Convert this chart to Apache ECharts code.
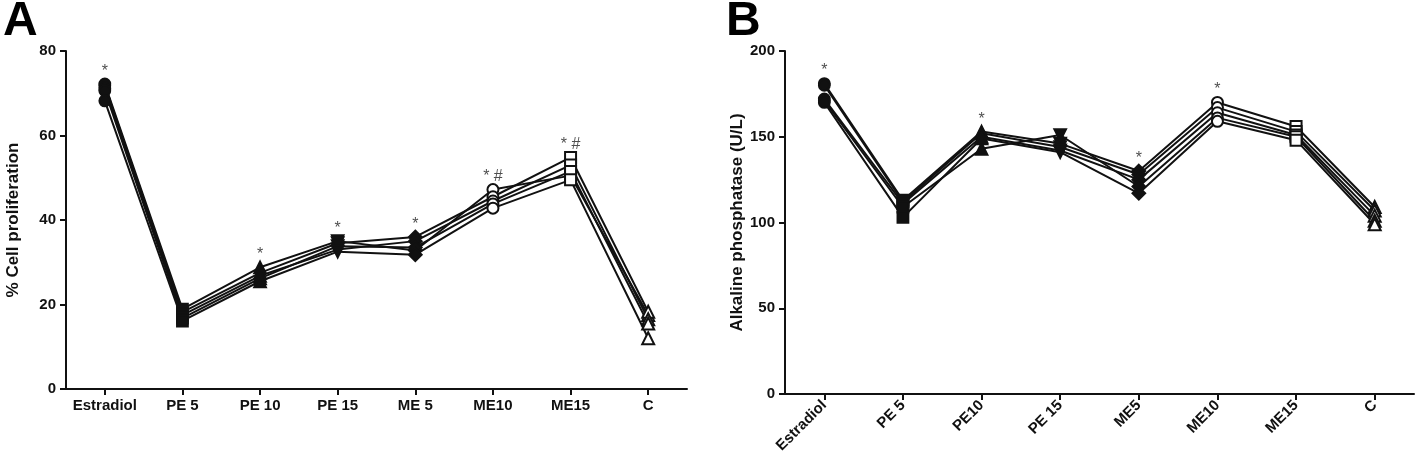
<!DOCTYPE html>
<html>
<head>
<meta charset="utf-8">
<script src="https://cdn.jsdelivr.net/npm/echarts@6/dist/echarts.min.js"></script>
<style>
html,body{margin:0;padding:0;background:#fff;}
#chart{width:1418px;height:464px;}
</style>
</head>
<body>
<div id="chart"></div>
<script>
// ---- data ----
const categoriesA = ['Estradiol', 'PE 5', 'PE 10', 'PE 15', 'ME 5', 'ME10', 'ME15', 'C'];
const categoriesB = ['Estradiol', 'PE 5', 'PE10', 'PE 15', 'ME5', 'ME10', 'ME15', 'C'];

// panel A: % cell proliferation, one array per replicate
const cellRep1 = [72.2, 18.9, 28.8, 35.0, 32.8, 47.2, 50.5, 17.5];
const cellRep2 = [71.8, 18.2, 27.5, 34.5, 36.0, 45.5, 54.8, 18.3];
const cellRep3 = [71.0, 17.5, 26.8, 33.0, 35.0, 44.5, 53.0, 16.5];
const cellRep4 = [70.6, 16.8, 26.2, 33.8, 33.5, 43.8, 51.5, 15.5];
const cellRep5 = [68.2, 16.1, 25.5, 32.5, 31.8, 42.8, 49.5, 12.0];

// panel B: alkaline phosphatase (U/L), one array per replicate
const alpRep1 = [181, 113, 153, 146, 130, 170, 156, 109];
const alpRep2 = [180, 112, 152, 144, 128, 167, 153, 107];
const alpRep3 = [172, 111, 150, 142, 125, 164, 151, 104];
const alpRep4 = [171, 109, 143, 151, 121, 161, 150, 101];
const alpRep5 = [170, 103, 149, 141, 117, 159, 148, 99];

// significance marks
const annotA = ['*', '', '*', '*', '*', '* #', '* #', ''];
const annotB = ['*', '', '*', '', '*', '*', '', ''];

// axis ticks
const yTicksA = [0, 20, 40, 60, 80];
const yTicksB = [0, 50, 100, 150, 200];

// ---- style ----
const TRI_DOWN = 'path://M0,0L10,0L5,9Z';
const markerStyle = [
  {symbol: 'circle', size: 11},
  {symbol: 'rect', size: 11},
  {symbol: 'triangle', size: 12},
  {symbol: TRI_DOWN, size: 12},
  {symbol: 'diamond', size: 13},
  {symbol: 'emptyCircle', size: 11},
  {symbol: 'emptyRect', size: 11},
  {symbol: 'emptyTriangle', size: 12}
];
const FONT = 'Liberation Sans, Arial, sans-serif';

function repSeries(values, axisIdx) {
  return {
    type: 'line',
    xAxisIndex: axisIdx, yAxisIndex: axisIdx,
    data: values.map((v, i) => ({
      value: v,
      symbol: markerStyle[i].symbol,
      symbolSize: markerStyle[i].size
    })),
    lineStyle: {color: '#111', width: 2},
    itemStyle: {color: '#111', borderColor: '#111', borderWidth: 1.8},
    showAllSymbol: true,
    animation: false,
    z: 3
  };
}
function annotSeries(reps, labels, axisIdx) {
  const maxes = labels.map((_, i) => Math.max(...reps.map(r => r[i])));
  return {
    type: 'scatter',
    xAxisIndex: axisIdx, yAxisIndex: axisIdx,
    data: maxes.map((m, i) => ({value: [i, m], label: {formatter: labels[i]}})),
    symbol: 'circle', symbolSize: 1,
    itemStyle: {color: 'rgba(0,0,0,0)'},
    label: {show: true, position: 'top', distance: 4, color: '#222', fontSize: 16, fontFamily: FONT},
    silent: true,
    animation: false,
    z: 5
  };
}
function yAxis(ticks, name, gridIndex, nameGap) {
  return {
    type: 'value', gridIndex: gridIndex,
    min: ticks[0], max: ticks[ticks.length - 1], interval: ticks[1] - ticks[0],
    name: name, nameLocation: 'middle', nameGap: nameGap,
    nameTextStyle: {fontSize: 17, fontWeight: 'bold', color: '#111', fontFamily: FONT},
    axisLine: {show: true, lineStyle: {color: '#111', width: 2}},
    axisTick: {show: true, length: 6, lineStyle: {color: '#111', width: 2}},
    axisLabel: {fontSize: 15, fontWeight: 'bold', color: '#111', fontFamily: FONT, margin: 10},
    splitLine: {show: false}
  };
}

const chart = echarts.init(document.getElementById('chart'), null, {renderer: 'canvas'});
chart.setOption({
  backgroundColor: '#fff',
  animation: false,
  title: [
    {text: 'A', left: -2, top: -7, textStyle: {fontSize: 48, fontWeight: 'bold', color: '#000', fontFamily: FONT}},
    {text: 'B', left: 721, top: -7, textStyle: {fontSize: 48, fontWeight: 'bold', color: '#000', fontFamily: FONT}}
  ],
  grid: [
    {left: 66, top: 51, width: 621, height: 338},
    {left: 785, top: 51, width: 629, height: 343}
  ],
  xAxis: [
    {
      type: 'category', gridIndex: 0, data: categoriesA, boundaryGap: true,
      axisLine: {lineStyle: {color: '#111', width: 2}},
      axisTick: {show: true, alignWithLabel: true, length: 6, lineStyle: {color: '#111', width: 2}},
      axisLabel: {fontSize: 15, fontWeight: 'bold', color: '#111', fontFamily: FONT, margin: 9, interval: 0}
    },
    {
      type: 'category', gridIndex: 1, data: categoriesB, boundaryGap: true,
      axisLine: {lineStyle: {color: '#111', width: 2}},
      axisTick: {show: true, alignWithLabel: true, length: 6, lineStyle: {color: '#111', width: 2}},
      axisLabel: {fontSize: 15, fontWeight: 'bold', color: '#111', fontFamily: FONT, margin: 9, rotate: 45, interval: 0}
    }
  ],
  yAxis: [
    yAxis(yTicksA, '% Cell proliferation', 0, 44),
    yAxis(yTicksB, 'Alkaline phosphatase (U/L)', 1, 37)
  ],
  series: [
    repSeries(cellRep1, 0), repSeries(cellRep2, 0), repSeries(cellRep3, 0),
    repSeries(cellRep4, 0), repSeries(cellRep5, 0),
    annotSeries([cellRep1, cellRep2, cellRep3, cellRep4, cellRep5], annotA, 0),
    repSeries(alpRep1, 1), repSeries(alpRep2, 1), repSeries(alpRep3, 1),
    repSeries(alpRep4, 1), repSeries(alpRep5, 1),
    annotSeries([alpRep1, alpRep2, alpRep3, alpRep4, alpRep5], annotB, 1)
  ]
});
</script>
</body>
</html>
